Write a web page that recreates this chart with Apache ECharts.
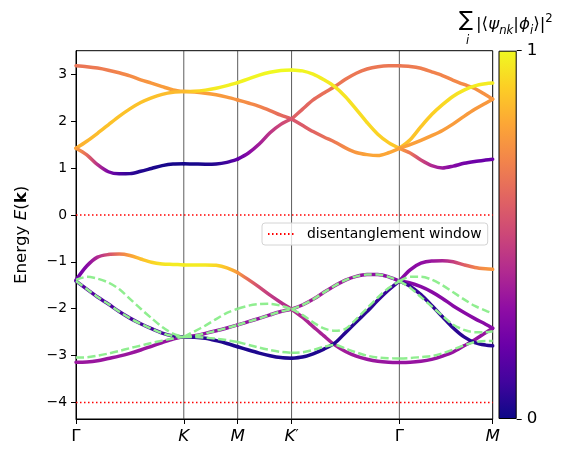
<!DOCTYPE html>
<html>
<head>
<meta charset="utf-8">
<script src="https://cdn.jsdelivr.net/npm/echarts@6/dist/echarts.min.js"></script>
<style>
  html, body { margin: 0; padding: 0; background: #fff; }
  #chart { width: 563px; height: 458px; }
</style>
</head>
<body>
<div id="chart"></div>
<script>
// k-path Γ-K-M-K'-Γ-M (|ΓK| = 1)
const kPath = [0, 0.1, 0.2, 0.3, 0.4, 0.5, 0.6, 0.7, 0.8, 0.9, 1.0,
  1.1, 1.2, 1.3, 1.4, 1.5, 1.6, 1.7, 1.8, 1.9, 2.0,
  2.1, 2.2, 2.3, 2.4, 2.5, 2.6, 2.7, 2.8, 2.9, 3.0,
  3.1, 3.2, 3.3, 3.4, 3.5, 3.6, 3.7, 3.8, 3.866];
const legBreaks = [0, 10, 15, 20, 30, 39];   // indexes of high-symmetry points in kPath
const kTicks = [0, 1, 1.5, 2, 3, 3.866];
const kLabels = ['Γ', 'K', 'M', "K'", 'Γ', 'M'];
const energyTicks = [-4, -3, -2, -1, 0, 1, 2, 3];
const energyRange = [-4.35, 3.5];
const windowLevels = [0, -4];

// upper bands
const bandU1 = [3.18, 3.16, 3.13, 3.085, 3.03, 2.965, 2.88, 2.81, 2.735, 2.665, 2.63,
  2.62, 2.595, 2.56, 2.51, 2.45, 2.385, 2.315, 2.225, 2.125, 2.045,
  2.25, 2.45, 2.6, 2.735, 2.89, 3.02, 3.11, 3.16, 3.18, 3.18,
  3.165, 3.125, 3.05, 2.97, 2.87, 2.78, 2.695, 2.56, 2.467];
const weightU1 = [0.65, 0.66, 0.67, 0.68, 0.70, 0.72, 0.74, 0.76, 0.77, 0.78, 0.78,
  0.78, 0.78, 0.77, 0.76, 0.74, 0.72, 0.70, 0.66, 0.62, 0.58,
  0.60, 0.62, 0.64, 0.65, 0.66, 0.66, 0.66, 0.66, 0.66, 0.66,
  0.67, 0.68, 0.69, 0.70, 0.71, 0.72, 0.73, 0.74, 0.74];
const bandU2 = [1.42, 1.57, 1.74, 1.92, 2.10, 2.26, 2.395, 2.495, 2.57, 2.615, 2.63,
  2.635, 2.66, 2.70, 2.755, 2.82, 2.90, 2.98, 3.04, 3.08, 3.09,
  3.07, 3.0, 2.88, 2.735, 2.52, 2.25, 1.97, 1.72, 1.54, 1.42,
  1.6, 1.88, 2.14, 2.35, 2.53, 2.66, 2.75, 2.795, 2.81];
const weightU2 = [0.82, 0.84, 0.86, 0.87, 0.87, 0.87, 0.87, 0.87, 0.86, 0.85, 0.85,
  0.90, 0.95, 0.97, 0.98, 0.98, 0.99, 0.99, 1.0, 1.0, 1.0,
  0.99, 0.98, 0.97, 0.96, 0.95, 0.94, 0.93, 0.91, 0.89, 0.87,
  0.87, 0.88, 0.90, 0.92, 0.94, 0.96, 0.97, 0.97, 0.97];
const bandU3 = [1.42, 1.28, 1.07, 0.92, 0.875, 0.88, 0.93, 0.99, 1.05, 1.085, 1.09,
  1.085, 1.08, 1.085, 1.12, 1.19, 1.32, 1.51, 1.75, 1.93, 2.045,
  1.91, 1.776, 1.66, 1.555, 1.43, 1.33, 1.285, 1.265, 1.325, 1.42,
  1.5, 1.59, 1.69, 1.8, 1.94, 2.1, 2.25, 2.38, 2.467];
const weightU3 = [0.78, 0.62, 0.42, 0.25, 0.13, 0.07, 0.04, 0.03, 0.02, 0.02, 0.02,
  0.02, 0.03, 0.05, 0.10, 0.18, 0.28, 0.36, 0.44, 0.50, 0.55,
  0.57, 0.60, 0.63, 0.67, 0.72, 0.76, 0.79, 0.80, 0.80, 0.79,
  0.78, 0.78, 0.78, 0.77, 0.77, 0.77, 0.76, 0.76, 0.76];
// only on the last leg Γ-M (starts at kPath index 30)
const bandU4 = [1.42, 1.32, 1.17, 1.05, 1.0, 1.04, 1.1, 1.14, 1.17, 1.187];
const weightU4 = [0.78, 0.65, 0.50, 0.40, 0.33, 0.27, 0.23, 0.21, 0.20, 0.20];

// lower bands
const bandL1 = [-1.39, -1.09, -0.9, -0.845, -0.835, -0.865, -0.94, -1.01, -1.045, -1.055, -1.065,
  -1.065, -1.065, -1.075, -1.13, -1.23, -1.38, -1.54, -1.71, -1.865, -2.01,
  -2.18, -2.38, -2.58, -2.77, -2.91, -3.01, -3.075, -3.12, -3.14, -3.145,
  -3.14, -3.12, -3.08, -3.01, -2.92, -2.79, -2.66, -2.51, -2.416];
const weightL1 = [0.20, 0.28, 0.40, 0.53, 0.66, 0.78, 0.86, 0.91, 0.95, 0.97, 0.97,
  0.97, 0.96, 0.92, 0.86, 0.76, 0.62, 0.52, 0.46, 0.42, 0.40,
  0.39, 0.38, 0.37, 0.36, 0.35, 0.34, 0.33, 0.33, 0.32, 0.32,
  0.32, 0.32, 0.32, 0.32, 0.32, 0.32, 0.32, 0.32, 0.32];
const bandL2 = [-1.41, -1.58, -1.75, -1.9, -2.06, -2.2, -2.32, -2.425, -2.52, -2.58, -2.6,
  -2.605, -2.63, -2.68, -2.74, -2.81, -2.88, -2.945, -3.0, -3.04, -3.055,
  -3.03, -2.96, -2.86, -2.735, -2.51, -2.28, -2.06, -1.82, -1.6, -1.41,
  -1.52, -1.7, -1.93, -2.17, -2.41, -2.6, -2.72, -2.775, -2.79];
const weightL2 = [0.15, 0.15, 0.14, 0.14, 0.13, 0.13, 0.12, 0.12, 0.11, 0.10, 0.09,
  0.07, 0.05, 0.04, 0.03, 0.03, 0.03, 0.03, 0.03, 0.03, 0.03,
  0.03, 0.03, 0.04, 0.04, 0.05, 0.05, 0.06, 0.07, 0.08, 0.10,
  0.09, 0.08, 0.07, 0.06, 0.06, 0.05, 0.05, 0.05, 0.05];
const bandL3 = [-3.14, -3.135, -3.11, -3.06, -3.01, -2.95, -2.88, -2.8, -2.72, -2.645, -2.6,
  -2.575, -2.525, -2.47, -2.41, -2.345, -2.275, -2.205, -2.13, -2.06, -2.01,
  -1.92, -1.8, -1.65, -1.51, -1.39, -1.31, -1.27, -1.27, -1.32, -1.41,
  -1.17, -1.03, -0.98, -0.975, -1.0, -1.065, -1.12, -1.15, -1.16];
const weightL3 = [0.33, 0.33, 0.33, 0.33, 0.33, 0.33, 0.33, 0.33, 0.32, 0.32, 0.32,
  0.31, 0.31, 0.31, 0.31, 0.31, 0.31, 0.31, 0.32, 0.33, 0.34,
  0.35, 0.36, 0.35, 0.34, 0.33, 0.32, 0.31, 0.30, 0.29, 0.28,
  0.28, 0.30, 0.33, 0.38, 0.47, 0.58, 0.68, 0.74, 0.76];
const bandL4 = [-1.41, -1.45, -1.53, -1.64, -1.78, -1.94, -2.08, -2.21, -2.33, -2.416];
const weightL4 = [0.26, 0.27, 0.28, 0.28, 0.28, 0.28, 0.28, 0.28, 0.28, 0.28];

// wannier-interpolated bands (dashed)
const wannierA = [-1.386, -1.32, -1.36, -1.44, -1.58, -1.79, -2.0, -2.2, -2.39, -2.53, -2.6,
  -2.48, -2.36, -2.22, -2.09, -2.0, -1.935, -1.9, -1.895, -1.935, -2.01,
  -2.13, -2.29, -2.42, -2.47, -2.43, -2.22, -1.99, -1.76, -1.56, -1.41,
  -1.32, -1.32, -1.38, -1.5, -1.65, -1.8, -1.94, -2.04, -2.1];
const wannierB = [-1.41, -1.58, -1.75, -1.9, -2.06, -2.2, -2.32, -2.425, -2.52, -2.58, -2.6,
  -2.575, -2.525, -2.47, -2.41, -2.345, -2.275, -2.205, -2.13, -2.06, -2.01,
  -1.92, -1.8, -1.65, -1.51, -1.39, -1.31, -1.27, -1.27, -1.32, -1.41,
  -1.55, -1.75, -1.95, -2.15, -2.34, -2.45, -2.5, -2.5, -2.48];
const wannierC = [-3.04, -3.035, -3.0, -2.955, -2.9, -2.84, -2.785, -2.73, -2.68, -2.635, -2.6,
  -2.6, -2.615, -2.64, -2.67, -2.71, -2.77, -2.83, -2.88, -2.92, -2.94,
  -2.93, -2.88, -2.81, -2.77, -2.85, -2.93, -3.0, -3.04, -3.055, -3.06,
  -3.05, -3.03, -3.01, -2.95, -2.87, -2.78, -2.71, -2.69, -2.69];

const FONT = 'DejaVu Sans';
// plasma colormap
const plasma = ['#0d0887', '#41049d', '#6a00a8', '#8f0da4', '#b12a90', '#cc4778',
  '#e16462', '#f2844b', '#fca636', '#fcce25', '#f0f921'];

function hexRgb(h) {
  return [1, 3, 5].map(i => parseInt(h.slice(i, i + 2), 16));
}
function plasmaColor(w) {
  const t = Math.min(Math.max(w, 0), 1) * 10;
  const i = Math.min(Math.floor(t), 9);
  const f = t - i;
  const a = hexRgb(plasma[i]), b = hexRgb(plasma[i + 1]);
  return 'rgb(' + [0, 1, 2].map(j => Math.round(a[j] + (b[j] - a[j]) * f)).join(',') + ')';
}

const bands = [
  { e: bandU1, w: weightU1, start: 0 },
  { e: bandU2, w: weightU2, start: 0 },
  { e: bandU3, w: weightU3, start: 0 },
  { e: bandU4, w: weightU4, start: 30 },
  { e: bandL3, w: weightL3, start: 0 },
  { e: bandL1, w: weightL1, start: 0 },
  { e: bandL4, w: weightL4, start: 30 },
  { e: bandL2, w: weightL2, start: 0 }
];
const wannier = [wannierA, wannierC, wannierB];

// one line series per leg, so the kinks at high-symmetry points stay sharp
function legSeries(energy, weight, start, toPx) {
  const list = [];
  for (let s = 0; s < legBreaks.length - 1; s++) {
    const a = Math.max(legBreaks[s], start);
    const b = legBreaks[s + 1];
    if (b <= a) continue;
    const pts = [];
    for (let i = a; i <= b; i++) pts.push([kPath[i], energy[i - start]]);
    let color = '#90ee90';
    if (weight) {
      const x0 = toPx(kPath[a]), x1 = toPx(kPath[b]);
      color = {
        type: 'linear', x: x0, y: 0, x2: x1, y2: 0, global: true,
        colorStops: pts.map((p, j) => ({
          offset: (toPx(p[0]) - x0) / (x1 - x0),
          color: plasmaColor(weight[a + j - start])
        }))
      };
    }
    list.push({
      type: 'line',
      data: pts,
      smooth: 0.3,
      symbol: 'none',
      silent: true,
      z: weight ? 3 : 4,
      lineStyle: weight
        ? { color: color, width: 3.5, cap: 'round', join: 'round' }
        : { color: color, width: 2.5, type: [8, 3.5] }
    });
  }
  return list;
}

const option = {
  animation: false,
  backgroundColor: '#fff',
  textStyle: { fontFamily: FONT },
  grid: [
    { left: 76, right: 70.3, top: 50.7, bottom: 39, show: true, borderColor: '#000', borderWidth: 1,
      outerBoundsMode: 'none' },
    { left: 498.5, width: 18.2, top: 50.7, bottom: 39, outerBoundsMode: 'none' }
  ],
  xAxis: [
    {
      type: 'value', gridIndex: 0, min: 0, max: kTicks[kTicks.length - 1],
      axisLine: { onZero: false, lineStyle: { color: '#000', width: 1 } },
      axisTick: { show: true, customValues: kTicks, length: 5, lineStyle: { color: '#000', width: 1 } },
      axisLabel: {
        customValues: kTicks, margin: 9, color: '#000', showMinLabel: true, showMaxLabel: true,
        formatter: v => {
          let i = 0;
          kTicks.forEach((t, j) => { if (Math.abs(t - v) < 1e-6) i = j; });
          const lab = kLabels[i];
          if (lab === 'Γ') return '{u|Γ}';
          if (lab.endsWith("'")) return '{i|' + lab[0] + '}{p|′}';
          return '{i|' + lab + '}';
        },
        rich: {
          u: { fontFamily: FONT, fontSize: 16.7, color: '#000' },
          i: { fontFamily: FONT, fontSize: 16.7, fontStyle: 'italic', color: '#000' },
          p: { fontFamily: FONT, fontSize: 14, color: '#000', verticalAlign: 'top', lineHeight: 14 }
        }
      },
      splitLine: { show: false }
    },
    { type: 'category', gridIndex: 1, data: ['w'], show: false }
  ],
  yAxis: [
    {
      type: 'value', gridIndex: 0, min: energyRange[0], max: energyRange[1],
      axisLine: { show: true, onZero: false, lineStyle: { color: '#000', width: 1 } },
      axisTick: { show: true, customValues: energyTicks, length: 5, lineStyle: { color: '#000', width: 1 } },
      axisLabel: {
        customValues: energyTicks, margin: 9, color: '#000', fontSize: 13.9, fontFamily: FONT,
        formatter: v => (v < 0 ? '\u2212' + Math.abs(v) : String(v))
      },
      splitLine: { show: false },
      name: '{t|Energy }{i|E}{t|(}{b|k}{t|)}',
      nameLocation: 'middle',
      nameRotate: 90,
      nameGap: 46,
      nameTextStyle: {
        fontFamily: FONT, fontSize: 16.7, color: '#000',
        rich: {
          t: { fontFamily: FONT, fontSize: 16.7, color: '#000' },
          i: { fontFamily: FONT, fontSize: 16.7, fontStyle: 'italic', color: '#000' },
          b: { fontFamily: FONT, fontSize: 16.7, fontWeight: 'bold', color: '#000' }
        }
      }
    },
    {
      type: 'value', gridIndex: 1, min: 0, max: 1, position: 'right',
      axisLine: { show: false },
      axisTick: { show: true, customValues: [0, 1], length: 5, lineStyle: { color: '#000', width: 1 } },
      axisLabel: { customValues: [0, 1], margin: 10, color: '#000', fontSize: 16.7, fontFamily: FONT },
      splitLine: { show: false }
    }
  ],
  legend: {
    data: ['disentanglement window'],
    selectedMode: false,
    left: 262, top: 223,
    itemWidth: 27, itemHeight: 14,
    padding: [4, 6, 4, 5],
    borderColor: '#d4d4d4', borderWidth: 1, borderRadius: 3,
    backgroundColor: 'rgba(255,255,255,0.8)',
    itemStyle: { opacity: 0 },
    textStyle: { fontFamily: FONT, fontSize: 13.9, color: '#000', padding: [0, 0, 0, 7] }
  },
  graphic: [
    { type: 'text', left: 459, top: 10, style: { text: '∑', font: '21px "DejaVu Sans"', fill: '#000' } },
    { type: 'text', left: 466, top: 35, style: { text: 'i', font: 'italic 11.5px "DejaVu Sans"', fill: '#000' } },
    {
      type: 'text', left: 476, top: 13,
      style: {
        text: '{n||⟨}{g|ψ}{s|nk}{n||}{g|ϕ}{s|i}{n|⟩|}{p|2}',
        fill: '#000',
        rich: {
          n: { fontFamily: FONT, fontSize: 16.7, lineHeight: 24, fill: '#000' },
          g: { fontFamily: FONT, fontSize: 16.7, fontStyle: 'italic', lineHeight: 24, fill: '#000' },
          s: { fontFamily: FONT, fontSize: 11.7, fontStyle: 'italic', lineHeight: 13, verticalAlign: 'bottom', fill: '#000' },
          p: { fontFamily: FONT, fontSize: 11.7, lineHeight: 13, verticalAlign: 'top', fill: '#000' }
        }
      }
    }
  ],
  series: []
};

const chart = echarts.init(document.getElementById('chart'));
chart.setOption(option);
const toPx = x => chart.convertToPixel({ xAxisIndex: 0 }, x);

const series = [];
// colorbar
series.push({
  type: 'bar', xAxisIndex: 1, yAxisIndex: 1, data: [1], barWidth: '100%', silent: true,
  itemStyle: {
    borderColor: '#000', borderWidth: 1,
    color: { type: 'linear', x: 0, y: 1, x2: 0, y2: 0,
      colorStops: plasma.map((c, i) => ({ offset: i / 10, color: c })) }
  }
});
// high-symmetry lines
kTicks.slice(1, -1).forEach(k => {
  series.push({
    type: 'line', data: [[k, energyRange[0]], [k, energyRange[1]]], symbol: 'none', silent: true, z: 1,
    lineStyle: { color: '#333', width: 0.8 }
  });
});
// disentanglement window
windowLevels.forEach(level => {
  series.push({
    type: 'line', name: 'disentanglement window', data: [[0, level], [kTicks[kTicks.length - 1], level]],
    symbol: 'none', silent: true, z: 2,
    itemStyle: { color: '#ff0000' },
    lineStyle: { color: '#ff0000', width: 1.5, type: [1.5, 2.5] }
  });
});
bands.forEach(b => series.push(...legSeries(b.e, b.w, b.start, toPx)));
wannier.forEach(w => series.push(...legSeries(w, null, 0, toPx)));

option.series = series;
chart.setOption(option, true);
</script>
</body>
</html>
